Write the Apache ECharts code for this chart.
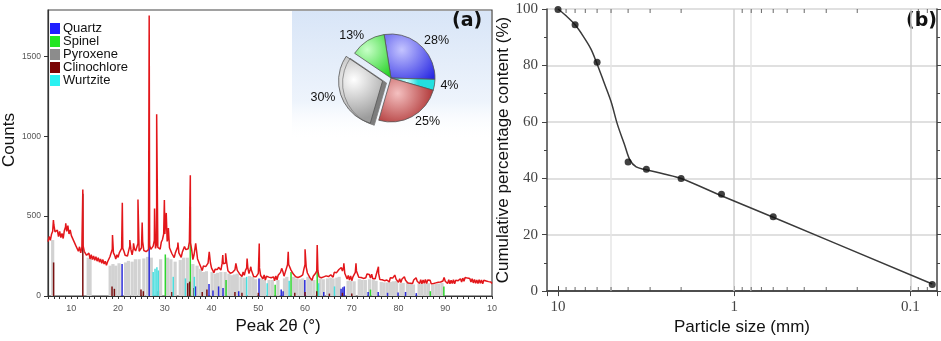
<!DOCTYPE html>
<html>
<head>
<meta charset="utf-8">
<script src="https://cdn.jsdelivr.net/npm/echarts@6.0.0/dist/echarts.min.js"></script>
<style>
  html, body { margin: 0; padding: 0; background: #fff; }
  #chart { width: 941px; height: 341px; }
</style>
</head>
<body>
<div id="chart"></div>
<script>
// ---- panel (a): XRD scan ----
// background counts every 0.25 degree from 5 to 100 (one row = 5 degrees)
const scanStart = 5;
const scanStep = 0.25;
const baseCounts = [
  340, 372, 348, 386, 405, 446, 402, 398, 412, 372, 405, 366, 392, 360, 410, 432, 405, 440, 388, 414,
  378, 390, 345, 342, 312, 314, 280, 308, 270, 306, 316, 280, 276, 255, 258, 268, 232, 258, 228, 250,
  224, 246, 218, 240, 212, 232, 204, 228, 200, 218, 192, 214, 208, 246, 256, 292, 270, 256, 232, 258,
  242, 270, 262, 298, 298, 280, 255, 262, 250, 282, 312, 290, 258, 298, 295, 282, 292, 328, 280, 280,
  302, 342, 285, 286, 278, 280, 290, 318, 292, 294, 312, 348, 298, 328, 304, 298, 294, 338, 354, 388,
  388, 380, 342, 370, 302, 298, 266, 272, 240, 270, 278, 308, 270, 272, 242, 276, 274, 314, 290, 294,
  296, 338, 332, 288, 228, 258, 254, 292, 232, 230, 196, 194, 160, 188, 184, 184, 178, 206, 212, 208,
  174, 176, 146, 168, 162, 166, 180, 184, 162, 204, 202, 196, 206, 206, 158, 166, 142, 150, 148, 156,
  164, 198, 160, 158, 138, 146, 122, 150, 130, 160, 174, 178, 140, 166, 162, 153, 122, 130, 120, 128,
  142, 176, 128, 130, 108, 132, 100, 124, 114, 118, 110, 114, 112, 120, 96, 126, 102, 130, 120, 148,
  154, 153, 124, 148, 144, 196, 197, 186, 162, 166, 137, 146, 120, 128, 116, 124, 122, 134, 132, 168,
  197, 180, 144, 138, 116, 120, 98, 124, 112, 142, 157, 158, 120, 126, 114, 122, 120, 128, 126, 134,
  122, 130, 132, 140, 118, 148, 142, 146, 134, 166, 174, 178, 156, 183, 142, 136, 106, 128, 100, 126,
  96, 120, 110, 148, 157, 146, 118, 126, 116, 120, 110, 116, 114, 138, 130, 134, 112, 136, 108, 118,
  108, 136, 142, 140, 104, 112, 102, 106, 96, 104, 100, 108, 88, 114, 104, 112, 110, 134, 104, 108,
  86, 108, 84, 106, 96, 120, 98, 104, 82, 92, 80, 88, 78, 100, 90, 114, 92, 100, 78, 102,
  76, 100, 80, 104, 78, 100, 90, 98, 76, 86, 78, 88, 82, 92, 86, 96, 88, 98, 94, 116,
  92, 100, 78, 102, 76, 98, 78, 102, 76, 98, 88, 96, 86, 108, 88, 112, 92, 116, 104, 112,
  102, 110, 88, 108, 82, 104, 80, 100, 78, 102, 80, 100, 76, 98, 86, 94, 82, 90, 78, 88,
  78
];
// sharp reflections
const peakAngles = [6.16, 8.8, 12.45, 18.8, 20.9, 22.5, 23.3, 24.25, 25.15, 26.65, 27.8, 28.25,
  29.9, 30.3, 30.75, 32.8, 34.2, 35.45, 36.6, 39.5, 42.4, 43.0, 45.2, 47.6, 48.4, 50.2,
  55.0, 56.4, 60.0, 62.6, 68.3, 70.9, 73.5, 75.7, 79.2, 83.9, 89.9, 94.9];
const peakCounts = [475, 455, 667, 381, 583, 350, 330, 604, 460, 1756, 548, 1137,
  600, 520, 425, 335, 310, 756, 330, 277, 256, 267, 204, 235, 183, 329,
  173, 277, 292, 319, 204, 204, 145, 183, 131, 110, 117, 117];

// reference pattern sticks
const pyroxeneAngles = [6.0, 13.6, 14.0, 18.3, 18.9, 19.5, 20.2, 21.6, 22.2, 23.0, 23.7, 24.5, 25.5, 26.3,
  27.1, 29.1, 30.6, 31.3, 32.2, 33.3, 34.0, 34.8, 36.0, 36.9, 37.6, 38.3, 38.9, 40.1, 40.8, 41.3,
  42.0, 42.9, 43.7, 44.3, 44.9, 45.5, 46.3, 47.0, 48.1, 48.8, 49.4, 50.7, 51.3, 52.3, 53.0, 54.2,
  55.6, 56.1, 57.5, 58.2, 58.9, 59.5, 60.6, 61.2, 61.9, 63.2, 63.9, 64.8, 65.5, 66.0, 66.8, 67.3,
  69.2, 69.8, 70.5, 71.6, 72.2, 72.9, 73.8, 74.6, 75.2, 76.3, 76.9, 77.6, 78.3, 78.9, 79.6, 80.5,
  81.0, 81.9, 82.6, 83.2, 84.4, 85.0, 85.7, 86.4, 87.3, 88.0, 88.6, 89.3];
const pyroxeneCounts = [350, 240, 235, 190, 200, 190, 205, 210, 220, 215, 230, 230, 235, 245,
  240, 230, 240, 230, 215, 225, 240, 240, 200, 190, 170, 150, 155, 150, 140, 145,
  150, 150, 140, 130, 135, 140, 120, 115, 125, 120, 105, 110, 100, 100, 100, 100,
  110, 120, 120, 110, 105, 110, 120, 105, 100, 110, 105, 110, 115, 110, 115, 120,
  95, 95, 92, 105, 100, 100, 105, 100, 95, 88, 85, 85, 88, 92, 95, 80,
  82, 88, 75, 72, 78, 75, 78, 80, 72, 75, 78, 82];
const quartzAngles = [20.85, 26.65, 36.55, 39.45, 40.3, 41.5, 42.45, 45.8, 50.15, 54.9, 55.3, 59.95,
  64.0, 67.7, 68.1, 68.4, 73.5, 75.65, 77.65, 79.9, 81.5, 83.8];
const quartzCounts = [200, 880, 60, 75, 35, 60, 50, 30, 110, 40, 30, 100,
  25, 45, 55, 60, 25, 25, 20, 22, 25, 18];
const spinelAngles = [30.1, 35.45, 43.1, 53.6, 57.0, 62.6, 74.0, 86.8, 89.7];
const spinelCounts = [260, 560, 100, 70, 150, 160, 40, 30, 60];
const clinochloreAngles = [6.2, 12.45, 18.7, 19.2, 24.9, 25.4, 28.6, 31.5, 34.9, 35.3, 36.2, 38.0,
  39.0, 45.0, 46.5, 50.0, 57.8, 60.0, 62.5, 65.2, 68.0, 70.0];
const clinochloreCounts = [210, 640, 60, 45, 40, 30, 30, 25, 80, 90, 50, 25,
  40, 25, 20, 20, 20, 25, 30, 15, 20, 15];
const wurtziteAngles = [27.5, 27.9, 28.3, 28.6, 31.8, 34.4, 36.3, 47.5, 51.9, 56.6, 62.9, 66.3];
const wurtziteCounts = [150, 170, 180, 160, 120, 110, 120, 120, 80, 95, 80, 60];

// phase shares (inset pie)
const phaseNames = ['Quartz', 'Wurtzite', 'Clinochlore', 'Pyroxene', 'Spinel'];
const phaseShares = [28, 4, 25, 30, 13];

// ---- panel (b): grading curve ----
const sieveSizes = [10, 8, 6, 4, 3.15, 2, 1.18, 0.6, 0.075];
const passingPct = [99.8, 94.4, 81.1, 45.8, 43.2, 39.9, 34.3, 26.4, 2.3];
const curveSizes = [10, 9, 8, 7.2, 6.5, 6, 5.5, 5, 4.6, 4.2, 3.9, 3.6, 3.2, 2.5, 2, 1.2, 0.6, 0.075];
const curvePct = [100, 97.6, 94.4, 90.4, 85.8, 80.5, 74.2, 67.2, 59.1, 52.1, 46.4, 44.0, 43.1, 41.5, 39.9, 34.0, 26.2, 2.5];
const minorSizes = [9, 8, 7, 6, 5, 4, 3, 2, 0.9, 0.8, 0.7, 0.6, 0.5, 0.4, 0.3, 0.2, 0.09, 0.08];

const phaseColors = {
  Quartz: '#1f1fff', Spinel: '#22e622', Pyroxene: '#8c8c8c', Clinochlore: '#7a0505', Wurtzite: '#2af2f2'
};

let profile = baseCounts.map((c, i) => [scanStart + i * scanStep, c]);
peakAngles.forEach((a, i) => profile.push([a, peakCounts[i]]));
profile.sort((p, q) => p[0] - q[0]);

function stickSeries(name, color, angles, counts, width) {
  return {
    type: 'custom',
    name: name,
    xAxisIndex: 0,
    yAxisIndex: 0,
    silent: true,
    itemStyle: {color: color},
    encode: {x: 0, y: 1},
    data: angles.map((a, i) => [a, counts[i]]),
    renderItem: function (params, api) {
      let p0 = api.coord([api.value(0), 0]);
      let p1 = api.coord([api.value(0), api.value(1)]);
      return {
        type: 'line',
        shape: {x1: p0[0], y1: p0[1], x2: p1[0], y2: p1[1]},
        style: {stroke: color, lineWidth: width}
      };
    }
  };
}

function slice(name, value, light, dark, extra) {
  return Object.assign({
    name: name,
    value: value,
    itemStyle: Object.assign({
      color: {
        type: 'radial', x: 0.35, y: 0.35, r: 0.9,
        colorStops: [{offset: 0, color: light}, {offset: 1, color: dark}]
      },
      borderColor: '#555',
      borderWidth: 0.8
    }, extra || {})
  });
}

const sans = 'Liberation Sans, Arial, sans-serif';
const serif = 'Liberation Serif, Times New Roman, serif';

let myChart = echarts.init(document.getElementById('chart'));

let option = {
  animation: false,
  backgroundColor: '#fff',
  graphic: [
    {
      type: 'rect', z: -1,
      shape: {x: 292, y: 11, width: 199, height: 130},
      style: {
        fill: {
          type: 'linear', x: 0, y: 0, x2: 0, y2: 1,
          colorStops: [{offset: 0, color: '#d8e5f7'}, {offset: 0.7, color: '#eef4fc'}, {offset: 1, color: 'rgba(255,255,255,0)'}]
        }
      }
    },
    {
      type: 'text', left: 452, top: 12,
      style: {text: '(a)', font: 'bold 19px DejaVu Sans, sans-serif', fill: '#111'}
    },
    {
      type: 'text', left: 906, top: 12,
      style: {text: '(b)', font: 'bold 19px DejaVu Sans, sans-serif', fill: '#111'}
    }
  ],
  legend: {
    orient: 'vertical',
    left: 50,
    top: 22,
    padding: 0,
    itemWidth: 10,
    itemHeight: 11,
    itemGap: 0,
    icon: 'rect',
    selectedMode: false,
    textStyle: {fontFamily: sans, fontSize: 13, lineHeight: 11, color: '#111', padding: [0, 0, 0, -2]},
    data: ['Quartz', 'Spinel', 'Pyroxene', 'Clinochlore', 'Wurtzite'].map(n => ({
      name: n, itemStyle: {color: phaseColors[n], borderWidth: 0}
    }))
  },
  grid: [
    {left: 48, top: 10, width: 444, height: 286, show: true, borderColor: '#444', borderWidth: 1.2},
    {left: 547, top: 9, width: 390, height: 288}
  ],
  xAxis: [
    {
      type: 'value', gridIndex: 0, min: 5, max: 100, splitNumber: 10,
      name: 'Peak 2θ (°)', nameLocation: 'middle', nameGap: 22,
      nameTextStyle: {fontFamily: sans, fontSize: 17, color: '#111', padding: [0, 0, 0, 16]},
      axisLine: {lineStyle: {color: '#333', width: 1.2}},
      axisTick: {length: 3, lineStyle: {color: '#333'}},
      minorTick: {show: true, splitNumber: 8, length: 3, lineStyle: {color: '#333'}},
      axisLabel: {
        fontFamily: sans, fontSize: 9, color: '#555', margin: 8, showMinLabel: false,
        formatter: v => (v === 100 ? '10' : String(v))
      },
      splitLine: {show: false}
    },
    {
      type: 'log', gridIndex: 1, logBase: 10, min: 0.0705, max: 11.55, inverse: true,
      name: 'Particle size (mm)', nameLocation: 'middle', nameGap: 24,
      nameTextStyle: {fontFamily: sans, fontSize: 17, color: '#111'},
      axisLine: {lineStyle: {color: '#444', width: 1.5}},
      axisTick: {inside: true, length: 5, lineStyle: {color: '#444'}},
      axisLabel: {fontFamily: serif, fontSize: 15, color: '#444', margin: 8, showMinLabel: false, showMaxLabel: false},
      splitLine: {show: false}
    },
    {
      type: 'log', gridIndex: 1, logBase: 10, min: 0.0705, max: 11.55, inverse: true, position: 'top',
      axisLine: {lineStyle: {color: '#444', width: 1.5}},
      axisTick: {inside: true, length: 5, lineStyle: {color: '#444'}},
      axisLabel: {show: false},
      splitLine: {show: false}
    }
  ],
  yAxis: [
    {
      type: 'value', gridIndex: 0, min: 0, max: 1790, interval: 500,
      name: 'Counts', nameLocation: 'middle', nameGap: 27,
      nameTextStyle: {fontFamily: sans, fontSize: 17, color: '#111', padding: [0, 0, 0, 26]},
      axisLine: {show: true, lineStyle: {color: '#333', width: 1.2}},
      axisTick: {show: true, length: 4, lineStyle: {color: '#333'}},
      axisLabel: {fontFamily: sans, fontSize: 8.5, color: '#555', margin: 7, showMaxLabel: false,
        formatter: v => String(v)},
      splitLine: {show: false}
    },
    {
      type: 'value', gridIndex: 1, min: 0, max: 100, interval: 20,
      name: 'Cumulative percentage content (%)', nameLocation: 'middle', nameGap: 31,
      nameTextStyle: {fontFamily: sans, fontSize: 17, color: '#111'},
      axisLine: {show: true, lineStyle: {color: '#444', width: 1.5}},
      axisTick: {show: true, length: 5, lineStyle: {color: '#444'}},
      minorTick: {show: true, splitNumber: 2, length: 3, lineStyle: {color: '#444'}},
      axisLabel: {fontFamily: serif, fontSize: 15, color: '#444', margin: 9},
      splitLine: {show: true, lineStyle: {color: '#d6d6d6', width: 1.5}}
    },
    {
      type: 'value', gridIndex: 1, min: 0, max: 100, interval: 20, position: 'right',
      axisLine: {show: true, lineStyle: {color: '#444', width: 1.5}},
      axisTick: {show: true, length: 4, lineStyle: {color: '#444'}},
      minorTick: {show: true, splitNumber: 2, length: 3, lineStyle: {color: '#444'}},
      axisLabel: {show: false},
      splitLine: {show: false}
    }
  ],
  series: [
    stickSeries('Pyroxene', '#d2d2d2', pyroxeneAngles, pyroxeneCounts, 3.2),
    stickSeries('Quartz', '#2b2bd8', quartzAngles, quartzCounts, 1.5),
    stickSeries('Spinel', '#2fd52f', spinelAngles, spinelCounts, 1.5),
    stickSeries('Clinochlore', '#7a1010', clinochloreAngles, clinochloreCounts, 1.5),
    stickSeries('Wurtzite', '#49dede', wurtziteAngles, wurtziteCounts, 1.5),
    {
      type: 'line', name: 'scan', xAxisIndex: 0, yAxisIndex: 0,
      data: profile, showSymbol: false, symbol: 'none', silent: true, z: 4,
      lineStyle: {color: '#e3171b', width: 1.5}
    },
    {
      type: 'pie', name: 'phases', center: [391, 78], radius: 44,
      startAngle: 99, clockwise: true, avoidLabelOverlap: false,
      selectedMode: 'single', selectedOffset: 9, z: 5,
      label: {show: true, formatter: '{c}%', fontFamily: sans, fontSize: 12.5, color: '#111', distanceToLabelLine: 0},
      labelLine: {show: false, length: 6, length2: 0},
      emphasis: {disabled: true},
      data: [
        slice(phaseNames[0], phaseShares[0], '#c4c4ff', '#2727e2'),
        slice(phaseNames[1], phaseShares[1], '#d6ffff', '#22e0e0'),
        slice(phaseNames[2], phaseShares[2], '#f4c0c0', '#a82626'),
        Object.assign(slice(phaseNames[3], phaseShares[3], '#ffffff', '#9c9c9c',
          {shadowColor: '#7d7d7d', shadowOffsetX: 4, shadowOffsetY: 2}), {selected: true}),
        slice(phaseNames[4], phaseShares[4], '#c8ffc8', '#26d226')
      ]
    },
    {
      type: 'scatter', name: 'guides', xAxisIndex: 1, yAxisIndex: 1, silent: true, z: 1,
      symbol: 'rect', symbolSize: [1, 4], symbolOffset: [0, -2], clip: false,
      itemStyle: {color: '#444'},
      data: minorSizes.map(s => [s, 0]),
      markLine: {
        silent: true, symbol: 'none', label: {show: false}, z: 1,
        lineStyle: {type: 'solid', width: 1.5},
        data: [
          {xAxis: 5, lineStyle: {color: '#e6e6e6'}},
          {xAxis: 1, lineStyle: {color: '#cfcfcf'}},
          {xAxis: 0.8, lineStyle: {color: '#e6e6e6'}},
          {xAxis: 0.1, lineStyle: {color: '#cfcfcf'}}
        ]
      }
    },
    {
      type: 'scatter', name: 'guidesTop', xAxisIndex: 2, yAxisIndex: 1, silent: true,
      symbol: 'rect', symbolSize: [1, 4], symbolOffset: [0, 2], clip: false,
      itemStyle: {color: '#444'},
      data: minorSizes.map(s => [s, 100])
    },
    {
      type: 'line', name: 'fit', xAxisIndex: 1, yAxisIndex: 1,
      data: curveSizes.map((s, i) => [s, curvePct[i]]),
      smooth: 0.35, symbol: 'none', silent: true, z: 6,
      lineStyle: {color: '#3a3a3a', width: 1.5}
    },
    {
      type: 'scatter', name: 'sieve', xAxisIndex: 1, yAxisIndex: 1,
      data: sieveSizes.map((s, i) => [s, passingPct[i]]),
      symbolSize: 7, clip: false, z: 7, silent: true,
      itemStyle: {color: '#111'}
    }
  ]
};

myChart.setOption(option);
</script>
</body>
</html>
